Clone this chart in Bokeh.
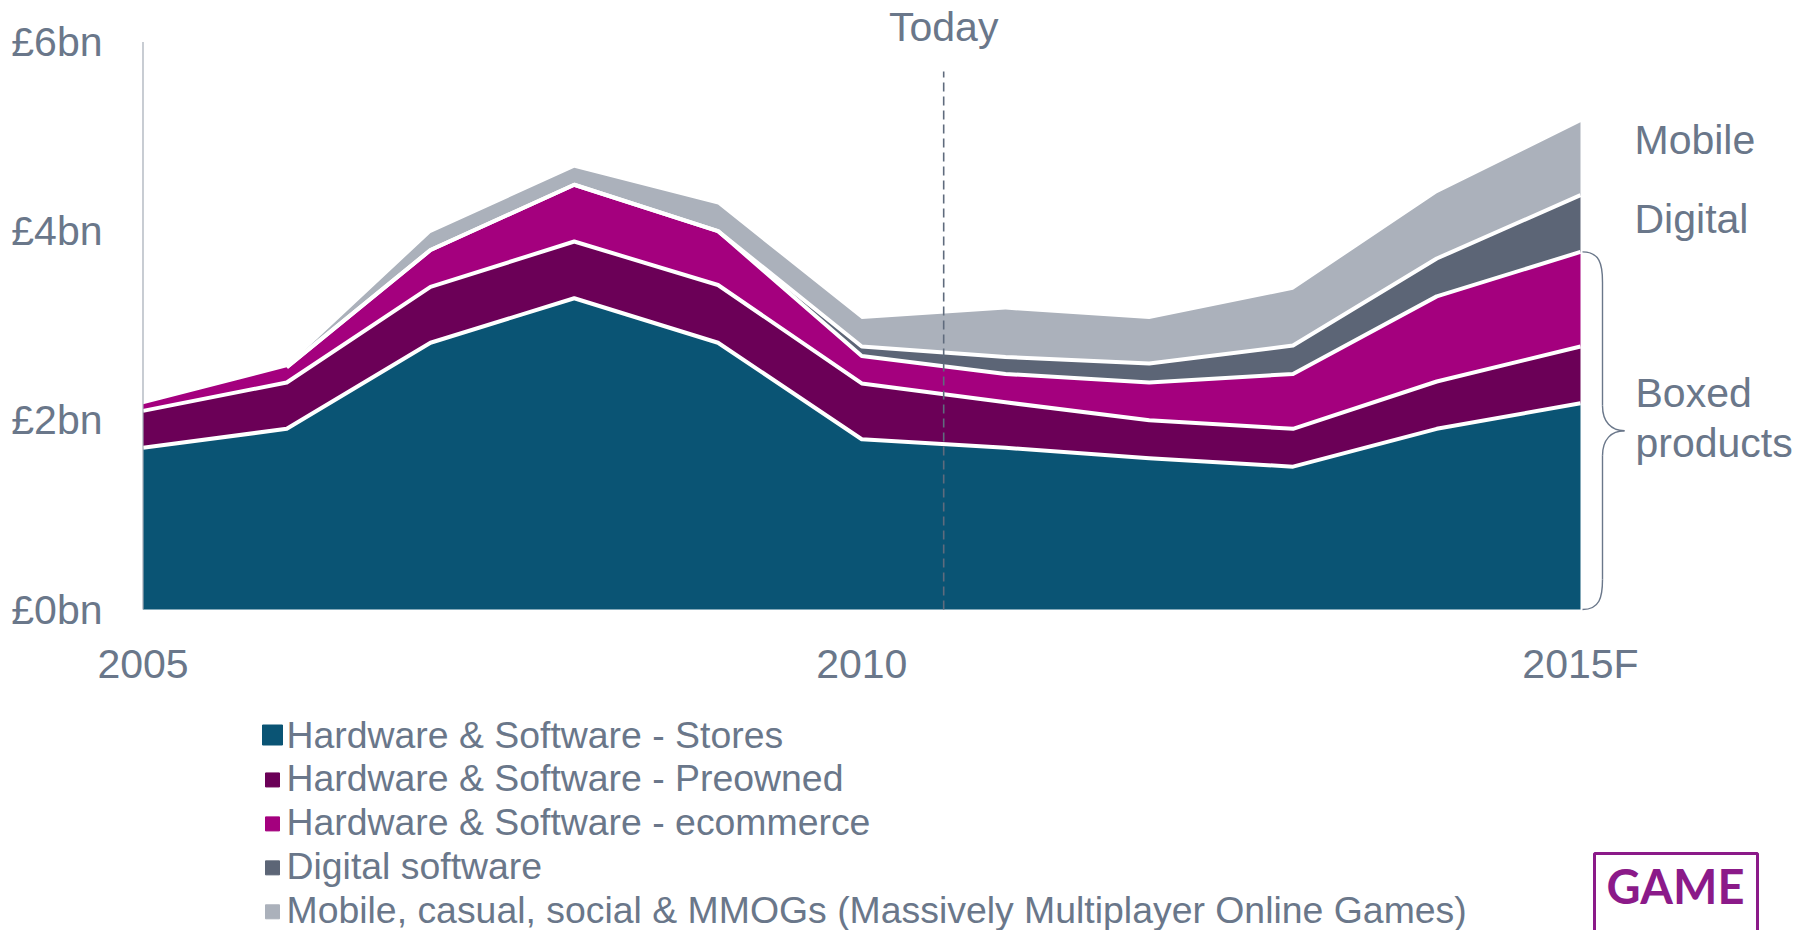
import numpy as np
from bokeh.plotting import figure
from bokeh.models import ColumnDataSource, Range1d
from bokeh.core.properties import value
from bokeh.embed import file_html
from bokeh.resources import INLINE

# ---------------- data ----------------
years = [2005, 2006, 2007, 2008, 2009, 2010, 2011, 2012, 2013, 2014, 2015]
stores = [1.71, 1.91, 2.82, 3.29, 2.82, 1.80, 1.71, 1.60, 1.51, 1.91, 2.18]
preowned = [0.39, 0.49, 0.59, 0.60, 0.61, 0.59, 0.48, 0.40, 0.40, 0.50, 0.60]
ecommerce = [0.07, 0.16, 0.39, 0.60, 0.57, 0.29, 0.30, 0.40, 0.58, 0.90, 1.00]
digital = [0.0, 0.0, 0.0, 0.0, 0.0, 0.10, 0.18, 0.20, 0.30, 0.40, 0.60]
mobile = [0.0, 0.0, 0.18, 0.18, 0.28, 0.29, 0.50, 0.47, 0.59, 0.69, 0.77]

series_names = [
    "Hardware & Software - Stores",
    "Hardware & Software - Preowned",
    "Hardware & Software - ecommerce",
    "Digital software",
    "Mobile, casual, social & MMOGs (Massively Multiplayer Online Games)",
]
year_ticks = [2005, 2010, 2015]
year_tick_labels = ["2005", "2010", "2015F"]
value_ticks = [0, 2, 4, 6]
value_tick_labels = ["£0bn", "£2bn", "£4bn", "£6bn"]
today_year = 2010.57
today_label = "Today"
right_labels = ["Mobile", "Digital"]
boxed_label = ["Boxed", "products"]
logo_text = "GAME"

# ---------------- styles ----------------
colors = ["#0A5474", "#6B0057", "#A4007E", "#5C6576", "#ABB1BB"]
TEXT = "#6A778A"
FONT = value("Liberation Sans")
W, H = 1802, 930

# pixel geometry of the plotting frame (frame covers the whole canvas)
X0_PX, X_PER = 142.5, 143.75   # first year position, px per year
Y0_PX, Y_PER = 609.0, 94.6     # zero line position, px per £bn
x_start = years[0] - X0_PX / X_PER
x_end = x_start + W / X_PER
y_end = Y0_PX / Y_PER
y_start = y_end - H / Y_PER


def X(px):
    return x_start + px / X_PER


def Y(py):
    return y_end - py / Y_PER


p = figure(width=W, height=H, x_range=Range1d(x_start, x_end), y_range=Range1d(y_start, y_end),
           output_backend="svg", toolbar_location=None, x_axis_type=None, y_axis_type=None,
           min_border=0, min_border_left=0, min_border_right=0, min_border_top=0, min_border_bottom=0)
p.grid.visible = False
p.outline_line_color = None
p.background_fill_color = "white"
p.border_fill_color = "white"

# ---------------- stacked areas ----------------
keys = ["stores", "preowned", "ecommerce", "digital", "mobile"]
layers = [stores, preowned, ecommerce, digital, mobile]
src = ColumnDataSource(dict(year=years, **{k: v for k, v in zip(keys, layers)}))
p.varea_stack(stackers=keys, x="year", color=colors, source=src)

arr = np.array(layers, dtype=float)
cum = np.cumsum(arr, axis=0)
for k in range(4):
    above = arr[k + 1:].sum(axis=0)
    top = cum[k].copy()
    keep = np.zeros(len(years), dtype=bool)
    for i in range(len(years)):
        nxt = above[i + 1] if i + 1 < len(years) else 0
        prv = above[i - 1] if i > 0 else 0
        keep[i] = above[i] > 0 or nxt > 0 or (prv > 0 and above[i] > 0)
    top[~keep] = np.nan
    p.line(years, top, line_color="white", line_width=4, line_join="round")

# ---------------- axis line and tick labels ----------------
TXT = dict(text_font=FONT, text_color=TEXT, text_baseline="alphabetic")
p.segment(x0=[years[0]], y0=[value_ticks[0]], x1=[years[0]], y1=[value_ticks[-1]],
          line_color="#A3ABB6", line_width=1.2)
p.text(x=[X(102)] * len(value_ticks), y=value_ticks, text=value_tick_labels,
       text_font_size="41px", text_align="right", **TXT)
p.text(x=year_ticks, y=[Y(663)] * len(year_ticks), text=year_tick_labels,
       text_font_size="41px", text_align="center", **TXT)

# ---------------- Today marker ----------------
p.segment(x0=[today_year], y0=[0], x1=[today_year], y1=[Y(71)], line_color="#5F6B7D",
          line_width=1.6, line_dash="9 5")
p.text(x=[today_year], y=[Y(26)], text=[today_label], text_font_size="41px",
       text_align="center", **TXT)

# ---------------- right-hand labels and brace ----------------
p.text(x=[X(1634)] * 2, y=[Y(139), Y(218)], text=right_labels,
       text_font_size="41px", text_align="left", **TXT)

boxed_top = stores[-1] + preowned[-1] + ecommerce[-1]
mid = boxed_top / 2
xe, xv, xt = X(1582), X(1602), X(1624)
c = 30 / Y_PER
t = 25 / Y_PER
bx0 = [xe, xv, xt, xv]
by0 = [boxed_top, mid + t, mid, c]
bx1 = [xv, xt, xv, xe]
by1 = [boxed_top - c, mid, mid - t, 0]
cx0 = [xe + 0.85 * (xv - xe), xv, xt - 0.6 * (xt - xv), xv]
cy0 = [boxed_top, mid + 0.35 * t, mid, 0.4 * c]
cx1 = [xv, xt - 0.6 * (xt - xv), xv, xe + 0.85 * (xv - xe)]
cy1 = [boxed_top - 0.4 * c, mid, mid - 0.35 * t, 0]
p.bezier(x0=bx0, y0=by0, x1=bx1, y1=by1, cx0=cx0, cy0=cy0, cx1=cx1, cy1=cy1,
         line_color=TEXT, line_width=1.4)
p.segment(x0=[xv, xv], y0=[boxed_top - c, mid - t], x1=[xv, xv], y1=[mid + t, c],
          line_color=TEXT, line_width=1.4)
p.text(x=[X(1635)] * 2, y=[mid + 38 / Y_PER, mid - 12.5 / Y_PER], text=boxed_label,
       text_font_size="41px", text_align="left", **TXT)

# ---------------- legend ----------------
rows = [734 + 43.95 * i for i in range(len(series_names))]
msize = [20, 14, 14, 14, 14]
my = [Y(rows[0] + 0.5)] + [Y(r + 1.5) for r in rows[1:]]
p.scatter(x=[X(272)] * len(series_names), y=my, size=msize, marker="square",
          fill_color=colors, line_color=colors)
p.text(x=[X(286)] * len(series_names), y=[Y(r) for r in rows], text=series_names,
       text_font_size="37.4px", text_align="left", **TXT)

# ---------------- logo ----------------
p.quad(left=[X(1594)], right=[X(1757)], top=[Y(853)], bottom=[Y(980)], fill_color=None,
       line_color="#8B1A89", line_width=3)
p.text(x=[X(1675)], y=[Y(885)], text=[logo_text], text_font=value("Lato"), text_font_style="bold",
       text_font_size="47px", text_color="#8B1A89", text_align="center", text_baseline="alphabetic")

open("out.html", "w").write(file_html(p, INLINE))
